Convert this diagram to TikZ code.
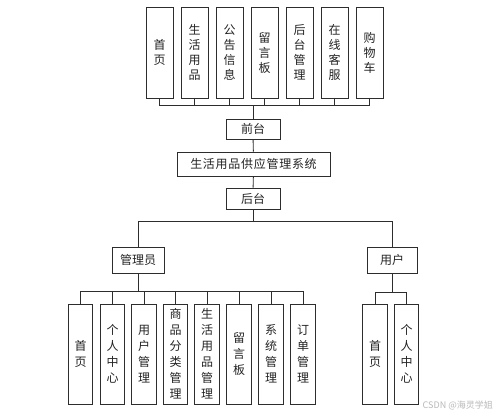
\documentclass[tikz,border=0pt]{standalone}
\usepackage{fontspec}
\setmainfont{Noto Sans CJK SC}
\newfontfamily\widecjk[LetterSpace=6]{Noto Sans CJK SC}
\definecolor{lc}{RGB}{45,45,45}
\definecolor{tc}{RGB}{35,35,35}
\definecolor{wm}{RGB}{185,185,185}
\begin{document}
\begin{tikzpicture}[x=1pt,y=-1pt,
  conn/.style={draw=lc, line width=0.9pt},
  box/.style={draw=lc, line width=0.9pt, inner sep=0pt, text=tc, font=\fontsize{12}{15}\selectfont},
  vtop/.style={box, text width=27pt, align=center, minimum height=91pt},
  vbot/.style={box, text width=24.5pt, align=center, minimum height=100pt, font=\fontsize{12}{16}\selectfont},
  hbox/.style={box, minimum height=20pt}
]
\fill[white] (0,0) rectangle (499,417);
\useasboundingbox (0,0) rectangle (499,417);

% top row
\node[vtop] (t1) at (159.5,52.5) {首\\页};
\node[vtop] (t2) at (194.5,52.5) {生\\活\\用\\品};
\node[vtop] (t3) at (229.5,52.5) {公\\告\\信\\息};
\node[vtop] (t4) at (264.5,52.5) {留\\言\\板};
\node[vtop] (t5) at (299.5,52.5) {后\\台\\管\\理};
\node[vtop] (t6) at (334.5,52.5) {在\\线\\客\\服};
\node[vtop] (t7) at (369.5,52.5) {购\\物\\车};

\node[hbox, minimum width=54pt] (qt) at (253,129) {前台};
\node[box, minimum width=153pt, minimum height=24pt, font=\widecjk\fontsize{12}{15}\selectfont] (sys) at (253.5,164) {生活用品供应管理系统};
\node[hbox, minimum width=54pt, minimum height=21pt] (ht) at (253,198.5) {后台};
\node[box, minimum width=52pt, minimum height=26pt] (adm) at (138,260) {管理员};
\node[box, minimum width=50pt, minimum height=26pt] (usr) at (392,260) {用户};

% admin children
\node[vbot] (a1) at (80.5,354) {首\\页};
\node[vbot] (a2) at (112.5,354) {个\\人\\中\\心};
\node[vbot] (a3) at (144,354) {用\\户\\管\\理};
\node[vbot] (a4) at (175.5,354) {商\\品\\分\\类\\管\\理};
\node[vbot] (a5) at (207,354) {生\\活\\用\\品\\管\\理};
\node[vbot] (a6) at (239,354) {留\\言\\板};
\node[vbot] (a7) at (271,354) {系\\统\\管\\理};
\node[vbot] (a8) at (303,354) {订\\单\\管\\理};

% user children
\node[vbot] (u1) at (375,354) {首\\页};
\node[vbot] (u2) at (406.5,354) {个\\人\\中\\心};

% connectors
\foreach \n in {t1,t2,t3,t4,t5,t6,t7}
  \draw[conn] (\n.south) -- ++(0,7) -| (qt.north);
\draw[conn] (qt) -- (sys);
\draw[conn] (sys) -- (ht);
\draw[conn] (adm.north) -- ++(0,-25) -| (ht.south);
\draw[conn] (usr.north) -- ++(0,-25) -| (ht.south);
\foreach \n in {a1,a2,a3,a4,a5,a6,a7,a8}
  \draw[conn] (\n.north) -- ++(0,-12) -| (adm.south);
\foreach \n in {u1,u2}
  \draw[conn] (\n.north) -- ++(0,-11) -| (usr.south);

\node[text=wm, font=\fontsize{9}{10}\selectfont, anchor=east, inner sep=0pt] (wmk) at (493,405) {CSDN @海灵学姐};
\end{tikzpicture}
\end{document}
